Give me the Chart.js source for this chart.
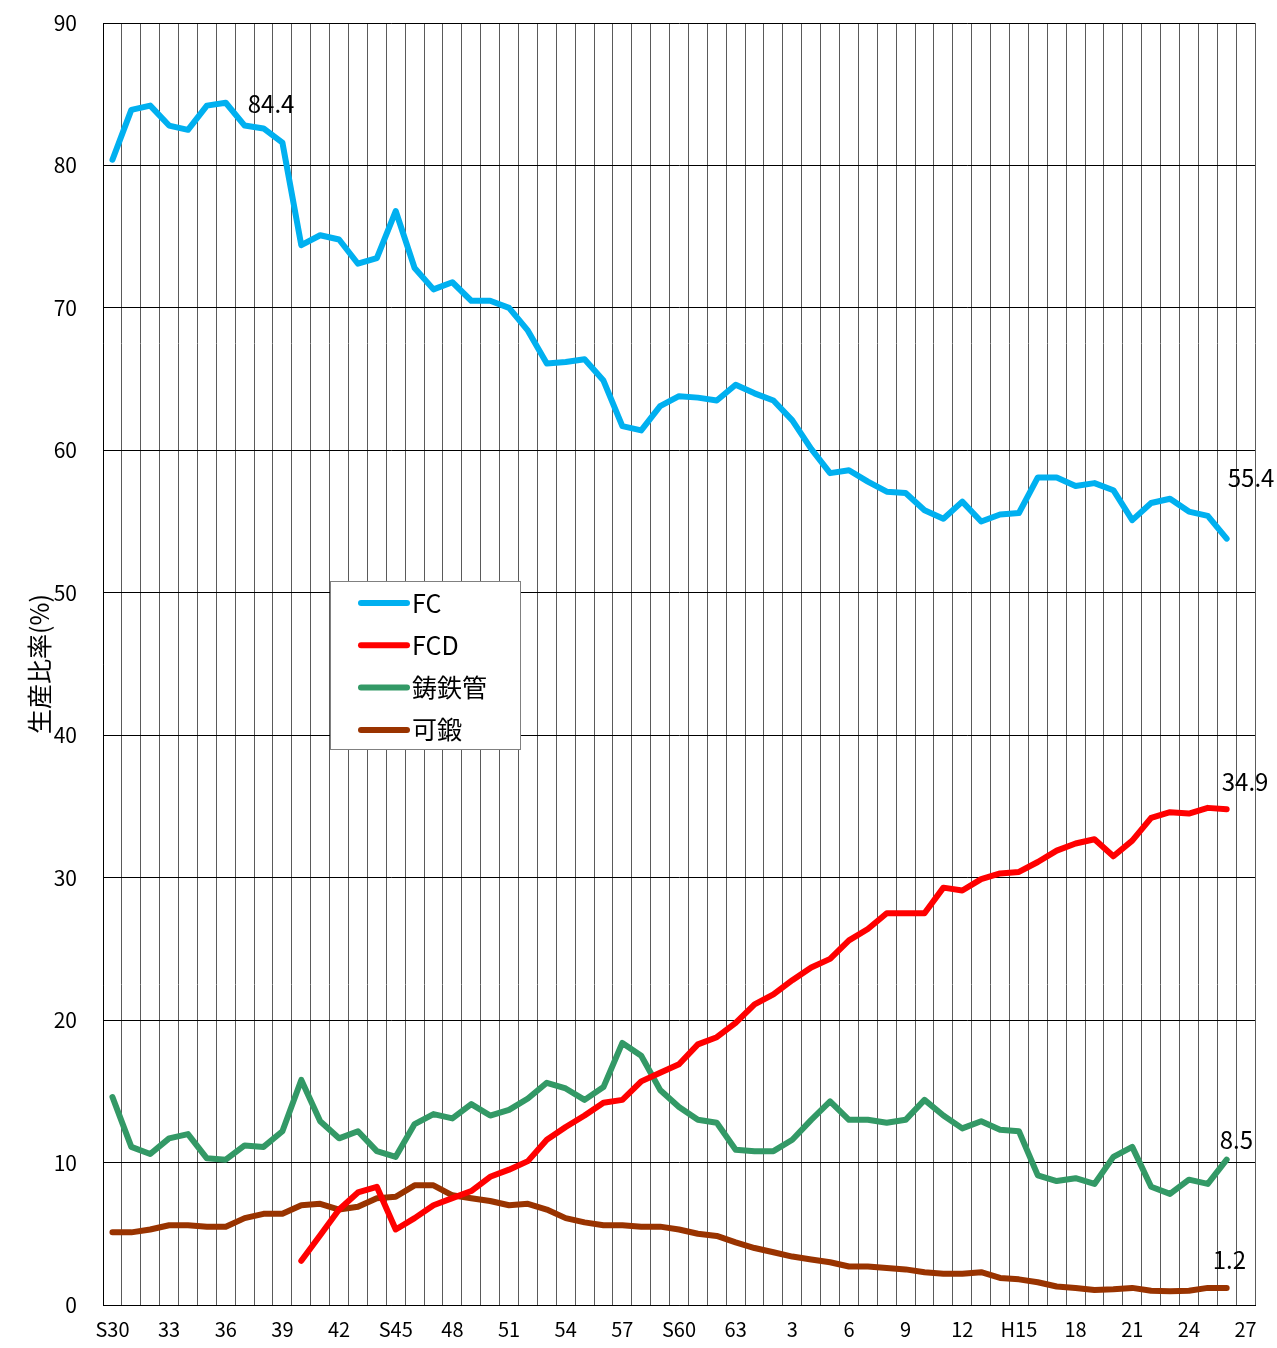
<!DOCTYPE html>
<html lang="ja">
<head>
<meta charset="utf-8">
<title>生産比率</title>
<script src="https://cdn.jsdelivr.net/npm/chart.js@4.4.1/dist/chart.umd.min.js"></script>
<style>
  html, body { margin: 0; padding: 0; background: #fff; }
  #wrap { position: relative; width: 1277px; height: 1348px; }
</style>
</head>
<body>
<div id="wrap"><canvas id="chart"></canvas></div>
<script>
// years S30 .. H27, one category per year
const categories = [
  'S30','31','32','33','34','35','36','37','38','39',
  '40','41','42','43','44','S45','46','47','48','49',
  '50','51','52','53','54','55','56','57','58','59',
  'S60','61','62','63','H1','2','3','4','5','6',
  '7','8','9','10','11','12','13','14','H15','16',
  '17','18','19','20','21','22','23','24','25','26',
  '27'
];

const fc = [
  80.4, 83.9, 84.2, 82.8, 82.5, 84.2, 84.4, 82.8, 82.6, 81.6,
  74.4, 75.1, 74.8, 73.1, 73.5, 76.8, 72.8, 71.3, 71.8, 70.5,
  70.5, 70.0, 68.4, 66.1, 66.2, 66.4, 64.9, 61.7, 61.4, 63.1,
  63.8, 63.7, 63.5, 64.6, 64.0, 63.5, 62.1, 60.1, 58.4, 58.6,
  57.8, 57.1, 57.0, 55.8, 55.2, 56.4, 55.0, 55.5, 55.6, 58.1,
  58.1, 57.5, 57.7, 57.2, 55.1, 56.3, 56.6, 55.7, 55.4, 53.8
];

const fcd = [
  null, null, null, null, null, null, null, null, null, null,
  3.1, 4.9, 6.7, 7.9, 8.3, 5.3, 6.1, 7.0, 7.5, 8.0,
  9.0, 9.5, 10.1, 11.6, 12.5, 13.3, 14.2, 14.4, 15.7, 16.3,
  16.9, 18.3, 18.8, 19.8, 21.1, 21.8, 22.8, 23.7, 24.3, 25.6,
  26.4, 27.5, 27.5, 27.5, 29.3, 29.1, 29.9, 30.3, 30.4, 31.1,
  31.9, 32.4, 32.7, 31.5, 32.6, 34.2, 34.6, 34.5, 34.9, 34.8
];

const pipe = [
  14.6, 11.1, 10.6, 11.7, 12.0, 10.3, 10.2, 11.2, 11.1, 12.2,
  15.8, 12.9, 11.7, 12.2, 10.8, 10.4, 12.7, 13.4, 13.1, 14.1,
  13.3, 13.7, 14.5, 15.6, 15.2, 14.4, 15.3, 18.4, 17.5, 15.1,
  13.9, 13.0, 12.8, 10.9, 10.8, 10.8, 11.6, 13.0, 14.3, 13.0,
  13.0, 12.8, 13.0, 14.4, 13.3, 12.4, 12.9, 12.3, 12.2, 9.1,
  8.7, 8.9, 8.5, 10.4, 11.1, 8.3, 7.8, 8.8, 8.5, 10.2
];

const malleable = [
  5.1, 5.1, 5.3, 5.6, 5.6, 5.5, 5.5, 6.1, 6.4, 6.4,
  7.0, 7.1, 6.7, 6.9, 7.5, 7.6, 8.4, 8.4, 7.7, 7.5,
  7.3, 7.0, 7.1, 6.7, 6.1, 5.8, 5.6, 5.6, 5.5, 5.5,
  5.3, 5.0, 4.85, 4.4, 4.0, 3.7, 3.4, 3.2, 3.0, 2.7,
  2.7, 2.6, 2.5, 2.3, 2.2, 2.2, 2.3, 1.9, 1.8, 1.6,
  1.3, 1.2, 1.05, 1.1, 1.2, 1.0, 0.96, 1.0, 1.2, 1.2
];

const seriesNames = ['FC', 'FCD', '鋳鉄管', '可鍛'];
const seriesColors = ['#00B0F0', '#FF0000', '#339966', '#993300'];
const seriesData = [fc, fcd, pipe, malleable];

// value labels: series, point index, offset from that point
const notes = [
  { text: '84.4', series: 0, index: 6,  dx: 22, dy: 1 },
  { text: '55.4', series: 0, index: 58, dx: 20, dy: -38 },
  { text: '34.9', series: 1, index: 58, dx: 14, dy: -26 },
  { text: '8.5',  series: 2, index: 58, dx: 12, dy: -44 },
  { text: '1.2',  series: 3, index: 58, dx: 5,  dy: -28 }
];

const FONT = '"Noto Sans CJK JP", "Noto Sans", sans-serif';

const overlay = {
  id: 'overlay',
  afterDatasetsDraw(chart) {
    const { ctx, scales: { x, y } } = chart;
    ctx.save();
    ctx.font = '24px ' + FONT;
    ctx.fillStyle = '#000';
    ctx.textBaseline = 'middle';
    ctx.textAlign = 'left';
    notes.forEach(n => {
      const v = seriesData[n.series][n.index];
      ctx.fillText(n.text, x.getPixelForValue(n.index) + n.dx, y.getPixelForValue(v) + n.dy);
    });
    ctx.restore();
  },
  afterDraw(chart) {
    // legend box inside the plot
    const ctx = chart.ctx;
    const bx = 330, by = 581, bw = 190, bh = 168;
    ctx.save();
    ctx.fillStyle = '#fff';
    ctx.fillRect(bx, by, bw, bh);
    ctx.strokeStyle = '#808080';
    ctx.lineWidth = 1;
    ctx.strokeRect(bx + 0.5, by + 0.5, bw, bh);
    ctx.font = '25px ' + FONT;
    ctx.textBaseline = 'middle';
    ctx.lineCap = 'round';
    seriesNames.forEach((name, i) => {
      const cy = by + 22 + i * 42.3;
      ctx.strokeStyle = seriesColors[i];
      ctx.lineWidth = 6;
      ctx.beginPath();
      ctx.moveTo(bx + 31, cy);
      ctx.lineTo(bx + 77, cy);
      ctx.stroke();
      ctx.fillStyle = '#000';
      ctx.fillText(name, bx + 82, cy);
    });
    ctx.restore();
  }
};

const ctx = document.getElementById('chart').getContext('2d');
const chart = new Chart(ctx, {
  type: 'line',
  data: {
    labels: categories,
    datasets: seriesNames.map((name, i) => ({
      label: name,
      data: seriesData[i],
      borderColor: seriesColors[i],
      backgroundColor: seriesColors[i],
      borderWidth: 6,
      borderCapStyle: 'round',
      borderJoinStyle: 'round',
      pointRadius: 0,
      tension: 0,
      fill: false
    }))
  },
  options: {
    responsive: true,
    maintainAspectRatio: false,
    animation: false,
    layout: { padding: { top: 23, right: 22, left: 0, bottom: 0 } },
    plugins: {
      legend: { display: false },
      tooltip: { enabled: false }
    },
    scales: {
      x: {
        offset: true,
        grid: { offset: true, color: '#5a5a5a', lineWidth: 1, drawTicks: false },
        border: { color: '#000', width: 1 },
        ticks: {
          autoSkip: false,
          maxRotation: 0,
          padding: 12,
          color: '#000',
          font: { family: FONT, size: 20 },
          callback: function(v, i) { return i % 3 === 0 ? categories[i] : ''; }
        },
        afterFit: function(s) { s.height = 43; }
      },
      y: {
        min: 0,
        max: 90,
        grid: { color: '#000', lineWidth: 1, drawTicks: false },
        border: { color: '#000', width: 1 },
        ticks: {
          stepSize: 10,
          padding: 26,
          color: '#000',
          font: { family: FONT, size: 21 }
        },
        title: {
          display: true,
          text: '生産比率(%)',
          color: '#000',
          font: { family: FONT, size: 25 },
          padding: { top: 24, bottom: 0 }
        },
        afterFit: function(s) {
          s.width = 103;
          s.paddingTop = 0;
          s.paddingBottom = 0;
        }
      }
    }
  },
  plugins: [overlay]
});
</script>
</body>
</html>
